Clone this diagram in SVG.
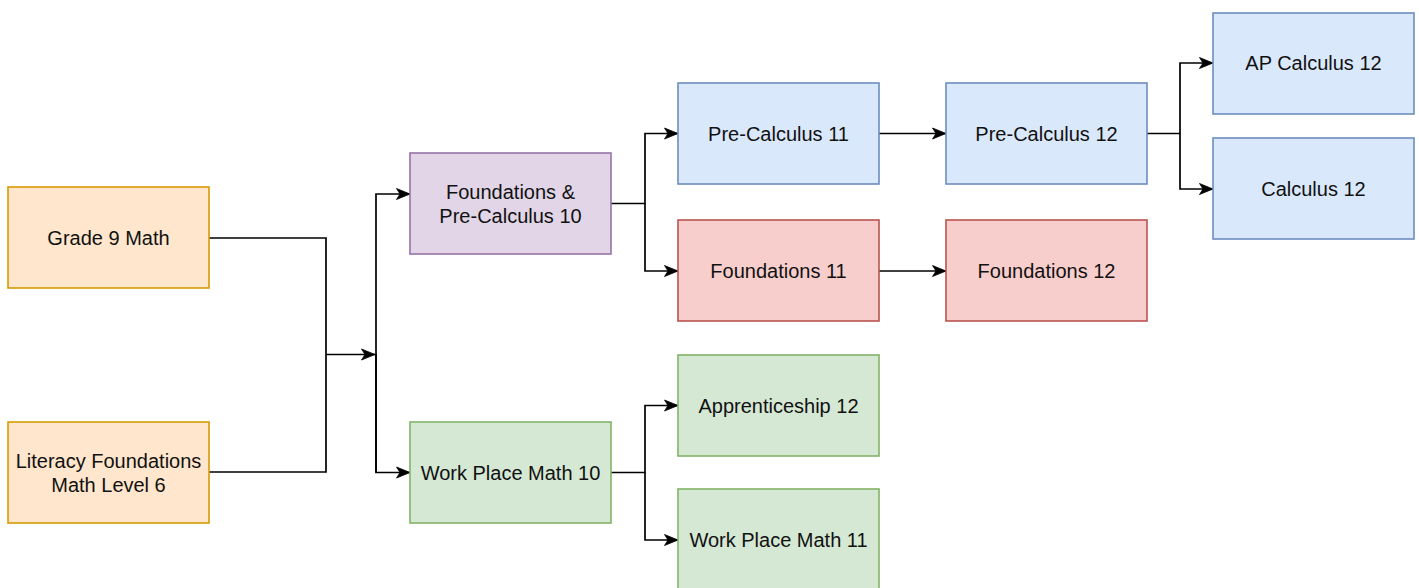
<svg xmlns="http://www.w3.org/2000/svg" width="1419" height="588" viewBox="0 0 1419 588">
  <style>
    .box { stroke-width: 1.6; }
    .orange { fill: #ffe6cc; stroke: #d79b00; }
    .purple { fill: #e1d5e7; stroke: #9673a6; }
    .green  { fill: #d5e8d4; stroke: #82b366; }
    .blue   { fill: #dae8fc; stroke: #6c8ebf; }
    .red    { fill: #f8cecc; stroke: #b85450; }
    .label { font-family: "Liberation Sans", Arial, Helvetica, sans-serif; font-size: 20px; fill: #111; text-anchor: middle; dominant-baseline: central; }
    .edge { fill: none; stroke: #000; stroke-width: 1.7; stroke-linejoin: miter; }
  </style>
  <defs>
    <marker id="arrow" markerUnits="userSpaceOnUse" viewBox="0 0 14 12" markerWidth="14" markerHeight="12" refX="13.5" refY="6" orient="auto" overflow="visible">
      <path d="M0,0.5 L13.5,6 L0,11.5 L3.5,6 Z" fill="#000" stroke="#000" stroke-width="0.8" stroke-linejoin="miter"/>
    </marker>
  </defs>

  <rect width="1419" height="588" fill="#ffffff"/>

  <!-- connectors -->
  <g id="connectors">
    <path class="edge" d="M209,238 H326 V472 H209"/>
    <path class="edge" d="M326,354.5 H375" marker-end="url(#arrow)"/>
    <path class="edge" d="M376,472.5 V194 H410" marker-end="url(#arrow)"/>
    <path class="edge" d="M376,354 V472.5 H410" marker-end="url(#arrow)"/>
    <path class="edge" d="M611,203.5 H645 V133.5 H678" marker-end="url(#arrow)"/>
    <path class="edge" d="M645,203.5 V271 H678" marker-end="url(#arrow)"/>
    <path class="edge" d="M611,472.5 H645 V405.5 H678" marker-end="url(#arrow)"/>
    <path class="edge" d="M645,472.5 V540 H678" marker-end="url(#arrow)"/>
    <path class="edge" d="M879,133.5 H946" marker-end="url(#arrow)"/>
    <path class="edge" d="M879,271 H946" marker-end="url(#arrow)"/>
    <path class="edge" d="M1147,133.5 H1180 V63 H1213" marker-end="url(#arrow)"/>
    <path class="edge" d="M1180,133.5 V189 H1213" marker-end="url(#arrow)"/>
  </g>

  <!-- nodes -->
  <g id="grade9">
    <rect class="box orange" x="8" y="187" width="201" height="101"/>
    <text class="label" x="108.5" y="238">Grade 9 Math</text>
  </g>
  <g id="literacy6">
    <rect class="box orange" x="8" y="422" width="201" height="101"/>
    <text class="label" x="108.5" y="461">Literacy Foundations</text>
    <text class="label" x="108.5" y="485">Math Level 6</text>
  </g>
  <g id="fpc10">
    <rect class="box purple" x="410" y="153" width="201" height="101"/>
    <text class="label" x="510.5" y="192">Foundations &amp;</text>
    <text class="label" x="510.5" y="216">Pre-Calculus 10</text>
  </g>
  <g id="wpm10">
    <rect class="box green" x="410" y="422" width="201" height="101"/>
    <text class="label" x="510.5" y="472.5">Work Place Math 10</text>
  </g>
  <g id="pc11">
    <rect class="box blue" x="678" y="83" width="201" height="101"/>
    <text class="label" x="778.5" y="133.5">Pre-Calculus 11</text>
  </g>
  <g id="f11">
    <rect class="box red" x="678" y="220" width="201" height="101"/>
    <text class="label" x="778.5" y="271">Foundations 11</text>
  </g>
  <g id="app12">
    <rect class="box green" x="678" y="355" width="201" height="101"/>
    <text class="label" x="778.5" y="405.5">Apprenticeship 12</text>
  </g>
  <g id="wpm11">
    <rect class="box green" x="678" y="489" width="201" height="101"/>
    <text class="label" x="778.5" y="540">Work Place Math 11</text>
  </g>
  <g id="pc12">
    <rect class="box blue" x="946" y="83" width="201" height="101"/>
    <text class="label" x="1046.5" y="133.5">Pre-Calculus 12</text>
  </g>
  <g id="f12">
    <rect class="box red" x="946" y="220" width="201" height="101"/>
    <text class="label" x="1046.5" y="271">Foundations 12</text>
  </g>
  <g id="apcalc12">
    <rect class="box blue" x="1213" y="13" width="201" height="101"/>
    <text class="label" x="1313.5" y="63">AP Calculus 12</text>
  </g>
  <g id="calc12">
    <rect class="box blue" x="1213" y="138" width="201" height="101"/>
    <text class="label" x="1313.5" y="189">Calculus 12</text>
  </g>
</svg>
